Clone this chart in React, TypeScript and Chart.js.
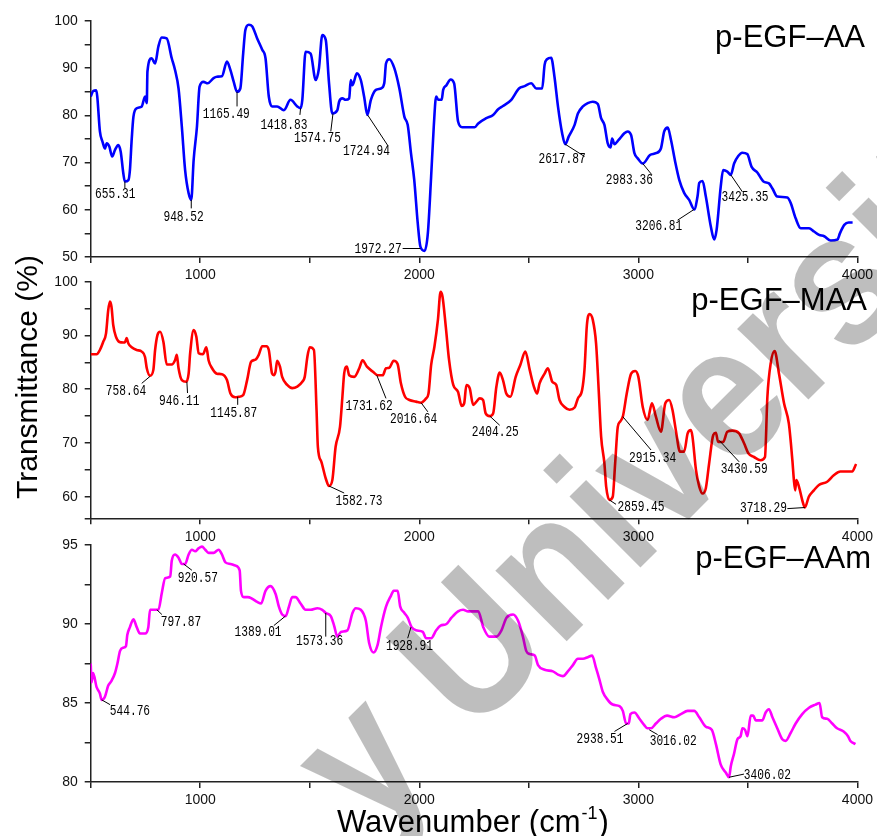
import React, { useEffect, useRef } from 'react';
import { Chart, registerables } from 'chart.js';
Chart.register(...registerables);

const W = 877;
const H = 836;

// ---------- p-EGF–AA (blue) ----------
const aaWave = [500,512,525,530,542,554,565,573,585,598,611,626,637,649,656,672,679,687,695,710,733,748,756,759,778,794,809,824,847,870,885,901,916,931,947,959,970,985,997,1015,1034,1061,1076,1099,1122,1138,1153,1168,1183,1196,1206,1222,1237,1260,1283,1298,1313,1328,1351,1382,1412,1443,1458,1466,1481,1504,1527,1542,1557,1573,1588,1603,1626,1634,1649,1664,1680,1687,1695,1715,1733,1748,1763,1779,1802,1825,1840,1848,1863,1886,1909,1932,1947,1962,1977,1993,2005,2024,2039,2054,2066,2077,2087,2102,2109,2124,2143,2159,2177,2196,2253,2269,2306,2337,2360,2382,2420,2455,2481,2511,2534,2561,2572,2583,2602,2617,2633,2652,2666,2683,2709,2724,2747,2769,2792,2815,2830,2845,2860,2873,2880,2891,2910,2936,2951,2967,2982,2997,3020,3053,3080,3103,3118,3134,3149,3168,3187,3209,3232,3255,3270,3278,3293,3308,3331,3346,3357,3376,3387,3406,3422,3437,3456,3474,3497,3517,3543,3571,3596,3612,3634,3680,3695,3718,3741,3779,3802,3825,3848,3878,3909,3920,3940,3960,3978];
const aaT = [84.0,85.2,85.3,84.0,76.6,74.4,73.0,74.1,73.4,71.3,72.7,73.7,72.3,67.7,66.0,66.3,68.4,74.8,79.7,81.5,81.9,84.0,82.6,89.3,92.1,91.0,94.6,96.5,96.3,92.1,89.6,85.7,77.6,68.4,63.5,62.1,70.6,77.6,86.1,87.1,86.8,87.9,88.2,88.3,91.4,89.6,87.1,85.0,85.7,93.1,98.1,99.2,98.9,96.3,93.9,92.1,84.0,81.9,81.9,81.1,83.3,81.9,81.5,83.3,93.5,93.1,87.5,90.0,97.0,96.0,86.8,80.4,81.1,82.9,83.6,83.3,83.6,87.5,86.4,88.9,87.5,84.0,80.1,83.3,85.4,85.7,86.8,91.0,91.9,90.0,85.7,79.7,78.0,72.0,66.3,57.1,52.2,51.3,55.0,67.0,77.6,84.0,83.3,83.3,85.4,86.4,87.6,86.8,78.7,77.5,77.5,78.3,79.4,80.1,81.3,82.0,83.3,85.7,86.2,86.8,85.7,85.7,90.7,91.9,92.2,88.2,81.9,76.2,73.9,75.6,78.0,80.4,81.9,82.6,82.9,82.4,79.4,78.0,74.1,73.2,75.1,73.9,74.8,76.2,76.6,75.8,72.0,70.9,69.8,71.6,72.0,73.0,76.6,77.4,74.8,70.2,66.3,63.6,62.1,60.1,62.8,65.7,66.1,62.8,56.4,53.7,55.7,64.9,68.4,68.1,67.4,69.8,71.4,72.1,71.8,69.1,67.9,66.0,65.6,64.5,62.8,62.6,61.5,58.2,56.1,56.1,55.4,54.7,54.4,53.5,53.7,55.0,56.8,57.3,57.3];

// ---------- p-EGF–MAA (red) ----------
const maaWave = [500,527,542,557,570,580,588,595,603,615,631,649,657,664,672,687,710,733,748,756,771,786,794,805,817,832,847,870,885,893,901,916,936,947,954,970,982,993,1012,1028,1038,1054,1076,1099,1122,1138,1160,1176,1196,1214,1232,1252,1267,1283,1302,1313,1328,1336,1344,1351,1364,1374,1397,1420,1443,1466,1477,1489,1500,1519,1531,1537,1553,1573,1588,1603,1618,1638,1649,1657,1669,1680,1703,1726,1741,1761,1787,1810,1833,1848,1863,1883,1901,1916,1935,1955,1985,2008,2031,2042,2054,2069,2085,2097,2106,2121,2136,2155,2177,2193,2205,2215,2230,2246,2261,2276,2291,2303,2321,2337,2352,2367,2382,2397,2416,2440,2461,2484,2504,2523,2538,2549,2572,2587,2607,2625,2640,2663,2686,2709,2724,2743,2754,2765,2777,2792,2807,2819,2830,2845,2853,2868,2883,2894,2906,2917,2929,2947,2967,2986,3000,3020,3042,3062,3080,3103,3123,3141,3156,3171,3190,3209,3225,3240,3247,3263,3278,3293,3308,3323,3342,3354,3364,3387,3406,3429,3460,3483,3502,3528,3558,3578,3589,3604,3622,3642,3665,3687,3703,3710,3716,3721,3733,3748,3760,3778,3801,3824,3862,3892,3922,3960,3976,3994];
const maaT = [86.5,86.5,87.3,88.8,90.4,94.7,96.3,95.3,91.9,89.8,88.8,88.7,88.8,89.5,88.5,87.8,87.3,87.0,86.0,83.9,82.5,83.6,87.3,90.1,90.7,88.8,84.6,84.6,85.4,86.4,83.9,81.7,81.4,82.9,86.7,91.0,89.8,86.7,86.5,87.8,85.4,83.9,82.9,82.8,81.7,79.2,78.5,78.6,78.9,81.7,85.1,85.5,86.4,88.0,88.0,87.3,82.9,82.6,83.3,85.3,84.2,82.3,80.8,80.2,80.5,81.4,82.3,86.0,87.8,87.3,76.1,69.3,66.5,63.4,62.0,63.1,69.3,73.0,78.6,82.9,84.2,82.6,82.3,83.9,85.4,84.2,83.3,82.6,82.6,83.9,84.0,85.3,84.7,81.1,78.6,78.0,77.7,77.5,78.3,79.2,84.5,87.9,92.9,98.1,97.2,91.6,85.4,80.8,79.5,76.9,77.4,80.8,80.2,77.1,77.7,78.3,78.0,75.5,75.0,75.5,80.5,83.1,81.7,79.2,78.6,82.3,84.5,87.0,83.6,80.5,79.2,81.1,82.9,83.9,81.4,80.8,78.0,76.7,76.2,76.6,78.3,79.8,83.6,91.9,94.0,92.9,88.5,79.8,71.2,66.2,61.9,59.4,60.0,66.2,73.0,74.0,74.9,79.2,82.9,83.4,82.3,76.7,74.3,77.4,74.9,72.1,77.4,78.0,76.1,72.4,68.4,68.4,71.8,72.4,71.2,65.0,61.9,60.6,61.6,66.2,71.5,71.9,70.2,70.2,72.1,72.3,71.8,69.9,68.1,67.4,66.8,67.4,78.6,84.8,87.1,82.9,77.4,73.6,66.8,63.1,61.2,63.1,61.9,59.4,58.0,60.0,61.2,62.2,62.8,64.0,64.7,64.7,64.7,66.1];

// ---------- p-EGF–AAm (magenta) ----------
const aamWave = [500,504,511,527,542,550,565,580,595,611,622,634,649,661,667,679,695,710,725,748,763,771,794,809,825,840,863,870,885,901,916,931,947,962,977,993,1008,1023,1038,1061,1084,1099,1115,1138,1160,1180,1186,1199,1217,1237,1260,1278,1298,1321,1344,1359,1374,1390,1405,1420,1435,1458,1481,1504,1535,1557,1573,1596,1611,1626,1642,1672,1695,1710,1733,1756,1771,1791,1810,1825,1848,1871,1883,1901,1913,1932,1947,1965,1985,2016,2031,2054,2077,2097,2124,2147,2177,2200,2223,2269,2292,2319,2352,2375,2398,2428,2451,2473,2488,2504,2527,2542,2572,2610,2633,2656,2678,2701,2724,2747,2769,2789,2807,2822,2838,2860,2883,2914,2929,2944,2956,2964,2982,3005,3027,3042,3058,3080,3103,3131,3164,3194,3225,3255,3278,3308,3335,3354,3376,3399,3414,3422,3437,3452,3467,3475,3487,3498,3513,3524,3536,3566,3581,3596,3612,3634,3657,3672,3695,3718,3748,3779,3809,3827,3839,3862,3885,3907,3937,3957,3968,3991];
const aamT = [87.5,86.3,86.9,86.0,85.6,85.2,85.4,86.1,86.4,86.9,87.5,88.3,88.5,88.6,89.3,89.8,90.3,89.8,89.4,89.4,89.8,90.9,90.9,90.9,92.0,92.9,93.0,94.0,94.4,94.2,93.8,93.8,94.4,94.7,94.6,94.8,94.9,94.7,94.5,94.5,94.7,94.4,93.9,93.8,93.7,93.4,92.1,91.7,91.7,91.6,91.4,91.3,92.1,92.4,91.9,91.1,90.6,90.5,91.1,91.7,91.7,91.3,90.9,90.9,91.0,90.9,90.7,90.5,89.9,89.2,89.5,89.6,90.7,91.0,90.9,90.2,88.8,88.2,88.7,89.8,91.1,91.8,92.1,92.1,91.1,90.7,90.4,89.8,89.6,89.5,89.1,89.1,89.6,89.9,90.0,90.4,90.8,90.9,90.8,90.8,89.8,89.2,89.2,89.6,90.4,90.6,90.2,89.2,88.3,88.1,88.0,87.4,87.1,87.0,86.8,86.7,87.0,87.4,87.8,87.8,87.9,88.0,87.2,86.5,85.7,85.2,84.9,84.8,84.5,83.7,83.7,84.3,84.4,84.0,83.6,83.4,83.4,83.7,84.0,84.2,84.1,84.3,84.5,84.5,84.1,83.5,83.3,82.4,81.1,80.6,80.3,81.0,81.8,82.7,82.9,83.4,83.3,82.9,84.2,84.2,83.9,83.9,84.4,84.6,84.1,83.4,82.7,82.6,83.1,83.7,84.3,84.7,84.9,85.0,84.1,84.0,83.7,83.4,83.2,82.9,82.6,82.4];

// ---------- peak labels: [text, peak x, peak y, leader end x, leader end y, label x, label y] ----------
type Peak = [string, number, number, number, number, number, number];
const aaPeaks: Peak[] = [
  ['655.31', 656, 66.0, 656, 64.6, 612, 63.3],
  ['948.52', 959, 62.1, 959, 60.3, 924, 58.4],
  ['1165.49', 1168, 85.0, 1168, 81.9, 1119, 80.2],
  ['1418.83', 1458, 81.5, 1455, 80.1, 1382, 78.0],
  ['1574.75', 1606, 80.4, 1596, 76.6, 1535, 75.1],
  ['1724.94', 1764, 80.1, 1855, 73.7, 1759, 72.5],
  ['1972.27', 2005, 51.8, 1924, 51.8, 1812, 51.6],
  ['2617.87', 2666, 73.9, 2754, 71.3, 2652, 70.7],
  ['2983.36', 3020, 69.8, 3062, 67.4, 2959, 66.3],
  ['3206.81', 3255, 60.1, 3179, 57.8, 3093, 56.4],
  ['3425.35', 3422, 67.4, 3475, 63.8, 3487, 62.6],
];
const maaPeaks: Peak[] = [
  ['758.64', 771, 82.4, 733, 81.1, 661, 79.7],
  ['946.11', 939, 81.4, 942, 79.3, 904, 77.8],
  ['1145.87', 1171, 78.6, 1171, 77.1, 1153, 75.5],
  ['1582.73', 1588, 62.0, 1657, 60.7, 1725, 59.2],
  ['1731.62', 1806, 82.6, 1848, 78.3, 1771, 76.9],
  ['2016.64', 2008, 77.5, 2039, 75.8, 1974, 74.4],
  ['2404.25', 2322, 75.0, 2367, 73.3, 2347, 72.0],
  ['2859.45', 2868, 59.4, 2898, 58.6, 3012, 58.0],
  ['2915.34', 2929, 74.9, 3058, 68.7, 3065, 67.1],
  ['3430.59', 3369, 70.5, 3460, 66.5, 3483, 65.1],
  ['3718.29', 3760, 58.0, 3680, 57.8, 3571, 57.9],
];
const aamPeaks: Peak[] = [
  ['544.76', 550, 85.2, 588, 84.9, 679, 84.5],
  ['797.87', 802, 90.9, 825, 90.6, 912, 90.1],
  ['920.57', 924, 93.8, 962, 93.4, 989, 92.9],
  ['1389.01', 1389, 90.5, 1336, 89.9, 1264, 89.5],
  ['1573.36', 1573, 90.7, 1573, 89.2, 1545, 88.9],
  ['1928.91', 1962, 89.8, 1947, 89.1, 1955, 88.6],
  ['2938.51', 2951, 83.7, 2891, 83.2, 2825, 82.7],
  ['3016.02', 3050, 83.3, 3088, 83.0, 3159, 82.6],
  ['3406.02', 3414, 80.3, 3482, 80.5, 3589, 80.4],
];

const SANS = '"Liberation Sans", Arial, sans-serif';
const MONO = '"Liberation Mono", "DejaVu Sans Mono", monospace';
const PLOT_LEFT = 90.7;
const PLOT_RIGHT = 858.3;
const XAXIS_H = 30;

type Panel = {
  wave: number[]; t: number[]; color: string;
  yMin: number; yMax: number; yStep: number; yLabelEvery: number;
  top: number; bottom: number;
  title: string; titleX: number; titleY: number;
  peaks: Peak[];
};

const panels: Panel[] = [
  { wave: aaWave, t: aaT, color: '#0000ff', yMin: 50, yMax: 100, yStep: 5, yLabelEvery: 10,
    top: 21, bottom: 257, title: 'p-EGF–AA', titleX: 865, titleY: 47, peaks: aaPeaks },
  { wave: maaWave, t: maaT, color: '#ff0000', yMin: 56, yMax: 100, yStep: 5, yLabelEvery: 10,
    top: 281.7, bottom: 518.3, title: 'p-EGF–MAA', titleX: 867, titleY: 310, peaks: maaPeaks },
  { wave: aamWave, t: aamT, color: '#ff00ff', yMin: 80, yMax: 95, yStep: 2.5, yLabelEvery: 5,
    top: 545, bottom: 782, title: 'p-EGF–AAm', titleX: 871, titleY: 568, peaks: aamPeaks },
];

function makePanelPlugin(p: Panel, isTop: boolean) {
  return {
    id: 'panelDecor',
    afterDatasetsDraw(chart: any) {
      const ctx = chart.ctx as CanvasRenderingContext2D;
      const xs = chart.scales.x;
      const ys = chart.scales.y;
      ctx.save();
      ctx.strokeStyle = '#000';
      ctx.lineWidth = 1;
      ctx.fillStyle = '#000';
      for (const [text, px, py, lx, ly, tx, ty] of p.peaks) {
        ctx.beginPath();
        ctx.moveTo(xs.getPixelForValue(px), ys.getPixelForValue(py));
        ctx.lineTo(xs.getPixelForValue(lx), ys.getPixelForValue(ly));
        ctx.stroke();
        const cx = xs.getPixelForValue(tx);
        const cy = ys.getPixelForValue(ty);
        ctx.save();
        ctx.translate(cx, cy);
        ctx.scale(0.8, 1);
        ctx.font = `14px ${MONO}`;
        ctx.textAlign = 'center';
        ctx.textBaseline = 'middle';
        ctx.fillText(text, 0, 0);
        ctx.restore();
      }
      ctx.font = `31px ${SANS}`;
      ctx.textAlign = 'right';
      ctx.textBaseline = 'alphabetic';
      ctx.fillText(p.title, p.titleX, p.titleY);
      ctx.restore();
    },
    afterDraw(chart: any) {
      if (!isTop) return;
      const ctx = chart.ctx as CanvasRenderingContext2D;
      ctx.save();
      ctx.fillStyle = '#000';
      // y axis title
      ctx.save();
      ctx.translate(37, 377);
      ctx.rotate(-Math.PI / 2);
      ctx.font = `30px ${SANS}`;
      ctx.textAlign = 'center';
      ctx.textBaseline = 'alphabetic';
      ctx.fillText('Transmittance (%)', 0, 0);
      ctx.restore();
      // x axis title with superscript
      const base = 832;
      let x = 337;
      ctx.textAlign = 'left';
      ctx.textBaseline = 'alphabetic';
      ctx.font = `31px ${SANS}`;
      const part1 = 'Wavenumber (cm';
      ctx.fillText(part1, x, base);
      x += ctx.measureText(part1).width;
      ctx.font = `18px ${SANS}`;
      ctx.fillText('-1', x + 1, base - 13);
      x += ctx.measureText('-1').width + 2;
      ctx.font = `31px ${SANS}`;
      ctx.fillText(')', x, base);
      // watermark
      ctx.save();
      ctx.translate(370, 838);
      ctx.rotate(-Math.PI / 4);
      ctx.scale(0.9, 1);
      ctx.font = `bold 190px ${SANS}`;
      ctx.fillStyle = 'rgba(0,0,0,0.255)';
      ctx.fillText('y University', 0, 0);
      ctx.restore();
      ctx.restore();
    },
  };
}

function buildConfig(p: Panel, isTop: boolean): any {
  const axisColor = '#222';
  return {
    type: 'line',
    data: {
      datasets: [{
        data: p.wave.map((x, i) => ({ x, y: p.t[i] })),
        borderColor: p.color,
        borderWidth: 2.6,
        pointRadius: 0,
        fill: false,
        cubicInterpolationMode: 'monotone',
      }],
    },
    options: {
      responsive: false,
      animation: false,
      events: [],
      layout: { padding: { left: 0, right: W - PLOT_RIGHT, top: p.top, bottom: H - p.bottom - XAXIS_H } },
      plugins: { legend: { display: false }, tooltip: { enabled: false }, title: { display: false } },
      scales: {
        x: {
          type: 'linear', min: 500, max: 4000,
          afterFit: (s: any) => { s.height = XAXIS_H; },
          ticks: {
            stepSize: 500, autoSkip: false, maxRotation: 0, minRotation: 0, padding: 4,
            color: '#111', font: { family: SANS, size: 14 },
            callback: (v: any) => (Number(v) % 1000 === 0 ? String(v) : ''),
          },
          grid: { drawOnChartArea: false, drawTicks: true, tickLength: 6, color: axisColor, lineWidth: 1.5 },
          border: { display: true, color: axisColor, width: 1.5 },
        },
        y: {
          type: 'linear', min: p.yMin, max: p.yMax,
          afterFit: (s: any) => { s.width = PLOT_LEFT; },
          ticks: {
            stepSize: p.yStep, autoSkip: false, padding: 7,
            color: '#111', font: { family: SANS, size: 14 },
            callback: (v: any) => {
              const n = Number(v);
              const r = n / p.yLabelEvery;
              return Math.abs(r - Math.round(r)) < 1e-6 ? String(n) : '';
            },
          },
          grid: { drawOnChartArea: false, drawTicks: true, tickLength: 6, color: axisColor, lineWidth: 1.5 },
          border: { display: true, color: axisColor, width: 1.5 },
        },
      },
    },
    plugins: [makePanelPlugin(p, isTop)],
  };
}

export default function App() {
  const refs = [useRef<HTMLCanvasElement>(null), useRef<HTMLCanvasElement>(null), useRef<HTMLCanvasElement>(null)];
  useEffect(() => {
    document.body.style.margin = '0';
    const charts = panels.map((p, i) => new Chart(refs[i].current as HTMLCanvasElement, buildConfig(p, i === panels.length - 1)));
    return () => { charts.forEach((c) => c.destroy()); };
  }, []);
  return (
    <div style={{ position: 'relative', width: W, height: H, background: '#fff', overflow: 'hidden' }}>
      {refs.map((r, i) => (
        <canvas key={i} ref={r} width={W} height={H}
          style={{ position: 'absolute', left: 0, top: 0, width: W, height: H }} />
      ))}
    </div>
  );
}
